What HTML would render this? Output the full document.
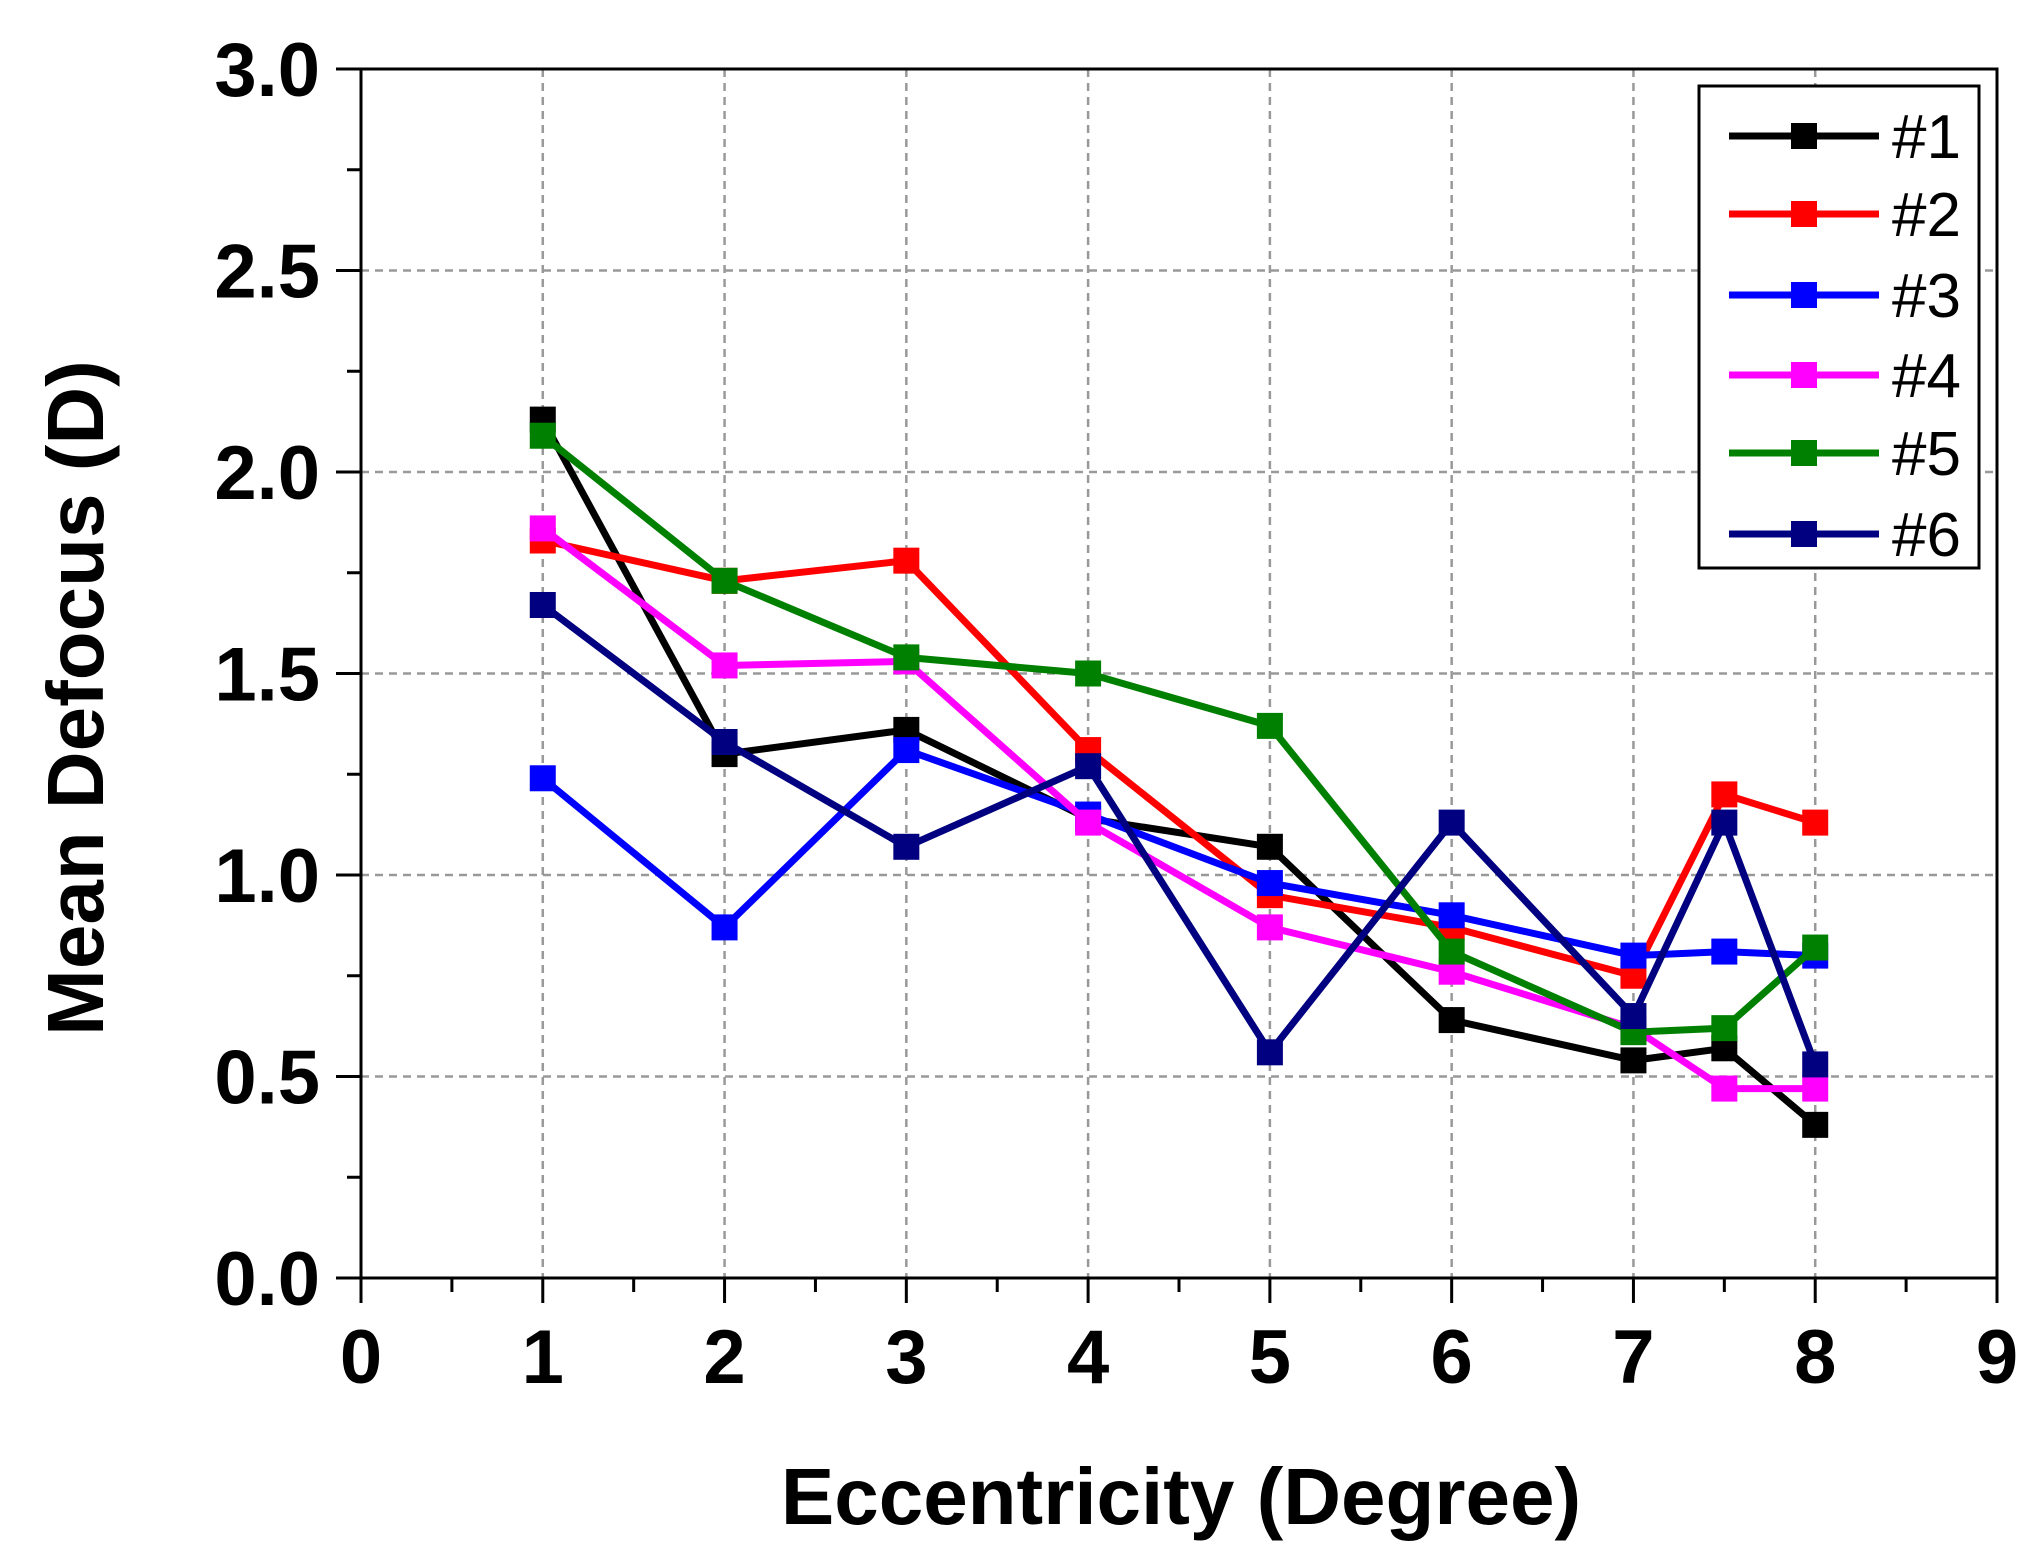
<!DOCTYPE html>
<html><head><meta charset="utf-8"><style>body{margin:0;background:#fff}svg{display:block}</style></head>
<body>
<svg id="c" width="2044" height="1564" xmlns="http://www.w3.org/2000/svg" font-family="Liberation Sans, Arial, sans-serif"></svg>
<script>
const xValues=[1,2,3,4,5,6,7,7.5,8];
const s1=[2.13,1.30,1.36,1.14,1.07,0.64,0.54,0.57,0.38];
const s2=[1.83,1.73,1.78,1.31,0.95,0.87,0.75,1.20,1.13];
const s3=[1.24,0.87,1.31,1.15,0.98,0.90,0.80,0.81,0.80];
const s4=[1.86,1.52,1.53,1.13,0.87,0.76,0.62,0.47,0.47];
const s5=[2.09,1.73,1.54,1.50,1.37,0.81,0.61,0.62,0.82];
const s6=[1.67,1.33,1.07,1.27,0.56,1.13,0.65,1.13,0.53];
const seriesNames=["#1","#2","#3","#4","#5","#6"];
const xTicks=[0,1,2,3,4,5,6,7,8,9];
const yTicks=["0.0","0.5","1.0","1.5","2.0","2.5","3.0"];
const series=[s1,s2,s3,s4,s5,s6];
const colors=["#000000","#ff0000","#0000ff","#ff00ff","#008000","#000080"];
const L=361,R=1997,T=69,B=1278;
const X=v=>L+(v-0)/9*(R-L);
const Y=v=>B-v/3*(B-T);
const svg=document.getElementById('c');
const NS="http://www.w3.org/2000/svg";
function mk(tag,attrs,parent){const e=document.createElementNS(NS,tag);for(const k in attrs)e.setAttribute(k,attrs[k]);(parent||svg).appendChild(e);return e;}
xTicks.forEach(t=>{if(t>0&&t<9){const g=mk('line',{x1:X(t),x2:X(t),y1:T,y2:B,stroke:'#999','stroke-width':2.5,'stroke-dasharray':'8,6'});

}});
yTicks.forEach(t=>{const v=parseFloat(t);if(v>0&&v<3){const g=mk('line',{x1:L,x2:R,y1:Y(v),y2:Y(v),stroke:'#999','stroke-width':2.5,'stroke-dasharray':'8,6'});

}});
const fr=mk('rect',{x:L,y:T,width:R-L,height:B-T,fill:'none',stroke:'#000','stroke-width':3});


for(let v=0;v<=9;v+=0.5){const maj=Number.isInteger(v);mk('line',{x1:X(v),x2:X(v),y1:B,y2:B+(maj?25:14),stroke:'#000','stroke-width':3});}
xTicks.forEach(t=>{const e=mk('text',{x:X(t),y:1383,'text-anchor':'middle','font-size':76,'font-weight':'bold'});e.textContent=t;

});
for(let v=0;v<=3.001;v+=0.25){const maj=Math.abs(v*2-Math.round(v*2))<1e-6;mk('line',{x1:L-(maj?25:14),x2:L,y1:Y(v),y2:Y(v),stroke:'#000','stroke-width':3});}
yTicks.forEach(t=>{const e=mk('text',{x:320,y:Y(parseFloat(t))+27,'text-anchor':'end','font-size':76,'font-weight':'bold'});e.textContent=t;

});
series.forEach((s,i)=>{
 const g=mk('g',{});
 
 
 mk('polyline',{points:s.map((v,j)=>X(xValues[j])+','+Y(v)).join(' '),fill:'none',stroke:colors[i],'stroke-width':7,'stroke-linejoin':'round'},g);
 s.forEach((v,j)=>{const m=mk('rect',{x:X(xValues[j])-13,y:Y(v)-13,width:26,height:26,fill:colors[i]},g);
 
 });
});
const lg=mk('g',{});


mk('rect',{x:1699,y:86,width:280,height:482,fill:'#fff',stroke:'#000','stroke-width':3},lg);
const ly=[136,214,295,375,453,534];
seriesNames.forEach((n,i)=>{
 const e=mk('g',{},lg);
 
 
 mk('line',{x1:1729,x2:1879,y1:ly[i],y2:ly[i],stroke:colors[i],'stroke-width':7},e);
 mk('rect',{x:1791,y:ly[i]-13,width:26,height:26,fill:colors[i]},e);
 const t=mk('text',{x:1892,y:ly[i]+22,'font-size':62},e);t.textContent=n;
});
const xt=mk('text',{x:1181,y:1524,'text-anchor':'middle','font-size':80,'font-weight':'bold'});xt.textContent='Eccentricity (Degree)';


const yt=mk('text',{x:0,y:0,'text-anchor':'middle','font-size':80,'font-weight':'bold',transform:'translate(103,698) rotate(-90)'});yt.textContent='Mean Defocus (D)';


</script>
</body></html>
